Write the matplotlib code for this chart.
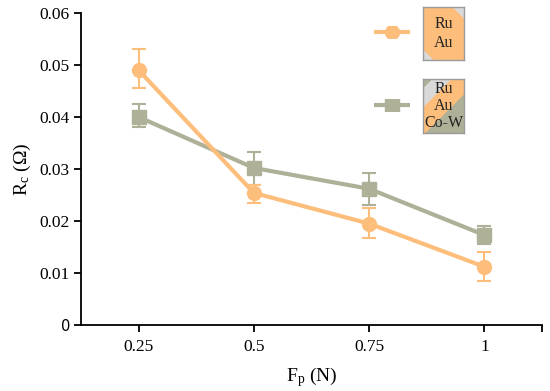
import matplotlib

matplotlib.use("Agg")
import matplotlib.pyplot as plt
import numpy as np
from matplotlib.colors import to_rgb

plt.rcParams["font.family"] = ["Liberation Serif", "DejaVu Serif"]
plt.rcParams["mathtext.fontset"] = "custom"
plt.rcParams["mathtext.rm"] = "Liberation Serif"
plt.rcParams["mathtext.it"] = "Liberation Serif:italic"

ORANGE = "#FDBE7C"
GREEN = "#AEB197"
LIGHT = "#D9D9D9"

forces = ["0.25", "0.5", "0.75", "1"]
ru_au = [0.0490, 0.0254, 0.0195, 0.0112]
ru_au_lo = [0.0455, 0.0235, 0.0167, 0.0085]
ru_au_hi = [0.0530, 0.0270, 0.0225, 0.0140]
ru_au_cow = [0.0400, 0.0302, 0.0262, 0.0173]
ru_au_cow_lo = [0.0380, 0.0270, 0.0230, 0.0155]
ru_au_cow_hi = [0.0425, 0.0333, 0.0292, 0.0190]

W, H = 550, 391
fig = plt.figure(figsize=(W / 100, H / 100), dpi=100)
ax = fig.add_axes([81 / W, 1 - 325 / H, 461 / W, 312 / H])

x = list(range(len(forces)))


def draw(vals, lo, hi, color, marker, ms):
    err = [[v - l for v, l in zip(vals, lo)], [h - v for v, h in zip(vals, hi)]]
    ax.errorbar(x, vals, yerr=err, color=color, lw=3, marker=marker, ms=ms,
                elinewidth=1.5, capsize=5, capthick=1.5, zorder=3)


draw(ru_au_cow, ru_au_cow_lo, ru_au_cow_hi, GREEN, "s", 10)
draw(ru_au, ru_au_lo, ru_au_hi, ORANGE, "o", 10)

ax.set_xlim(-0.5, 3.5)
ax.set_ylim(0, 0.06)
ax.set_xticks(x)
ax.set_xticklabels(forces)
ax.set_xticks([3.5], minor=True)
ax.tick_params(axis="x", which="minor", length=5, width=1.3)
ax.set_yticks([0, 0.01, 0.02, 0.03, 0.04, 0.05, 0.06])
ax.set_yticklabels(["0", "0.01", "0.02", "0.03", "0.04", "0.05", "0.06"])
ax.tick_params(labelsize=12.5, length=5, width=1.3, pad=3)
ax.tick_params(axis="x", pad=5)
for lab in ax.get_yticklabels()[:1]:
    lab.set_family("DejaVu Sans")
    lab.set_fontsize(10.5)
for s in ["top", "right"]:
    ax.spines[s].set_visible(False)
for s in ["left", "bottom"]:
    ax.spines[s].set_linewidth(1.3)
ax.set_ylabel(r"R$_\mathrm{c}$ (Ω)", fontsize=14, labelpad=5)
ax.set_xlabel(r"F$_\mathrm{p}$ (N)", fontsize=14, labelpad=7)


# hand-made legend: line sample + striped layer box (box coords in pixels)
def layer_box(left, top, w, h, cuts, colors, slope_sign, text, spacing):
    bax = fig.add_axes([left / W, 1 - (top + h) / H, w / W, h / H])
    px, py = np.meshgrid(np.arange(w) + 0.5, np.arange(h) + 0.5)
    f = (py - px) if slope_sign > 0 else (px + py)
    idx = np.digitize(f, cuts)
    img = np.array([to_rgb(colors[i]) for i in idx.ravel()]).reshape(h, w, 3)
    bax.imshow(img, origin="lower", extent=(0, w, 0, h), interpolation="nearest", aspect="auto")
    bax.set_xlim(0, w)
    bax.set_ylim(0, h)
    bax.set_xticks([])
    bax.set_yticks([])
    for s in bax.spines.values():
        s.set_color("#9a9a9a")
        s.set_linewidth(1)
    bax.text(w / 2, h / 2, text, ha="center", va="center", fontsize=11.5,
             color="#222222", linespacing=spacing)


def line_sample(y, color, marker):
    lax = fig.add_axes([374 / W, 1 - (y + 6) / H, 36 / W, 12 / H])
    lax.axis("off")
    lax.set_xlim(0, 1)
    lax.set_ylim(0, 1)
    lax.plot([0, 1], [0.5, 0.5], color=color, lw=3)
    lax.plot([0.5], [0.5], color=color, marker=marker, ms=10)


layer_box(423, 7, 41, 53, [11, 83], [LIGHT, ORANGE, LIGHT], -1, "Ru\nAu", 1.25)
layer_box(423, 79, 41, 54, [-2, 25.5, 45], [GREEN, ORANGE, LIGHT, GREEN], 1,
          "Ru\nAu\nCo-W", 1.1)
line_sample(32, ORANGE, "o")
line_sample(105, GREEN, "s")

fig.savefig("out.png", dpi=100)
plt.close(fig)
